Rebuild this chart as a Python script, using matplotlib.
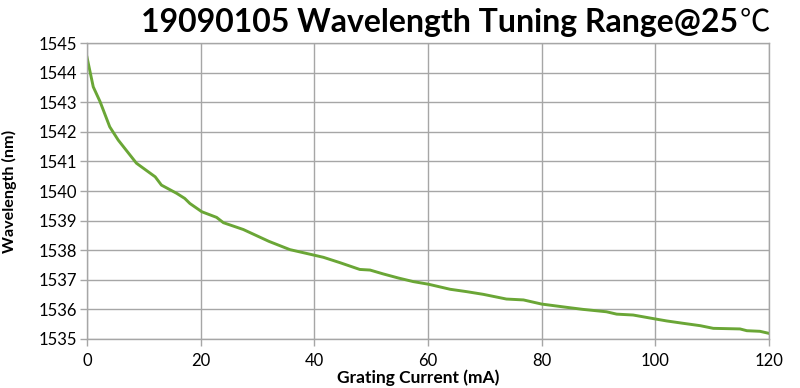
import matplotlib
matplotlib.use("Agg")
import matplotlib.pyplot as plt

# 光栅电流 (mA) 与波长 (nm)
current_ma = [0, 1.1, 2.3, 4.0, 5.5, 8.7, 12.0, 13.1, 15.8, 17.2, 18.1, 20.2, 22.8, 24.0,
              27.5, 32.0, 35.7, 39.8, 41.6, 44.5, 48.0, 49.8, 52.1, 54.8, 57.4, 60.1,
              63.9, 66.8, 69.7, 73.8, 76.8, 80.0, 84.4, 87.3, 91.4, 93.2, 96.1, 99.9,
              102.0, 104.9, 107.9, 110.2, 114.9, 116.1, 118.4, 120.0]
wavelength_nm = [1544.52, 1543.52, 1543.02, 1542.17, 1541.72, 1540.94, 1540.48, 1540.20,
                 1539.92, 1539.75, 1539.58, 1539.30, 1539.11, 1538.93, 1538.70, 1538.30,
                 1538.02, 1537.84, 1537.76, 1537.58, 1537.35, 1537.33, 1537.20, 1537.06,
                 1536.94, 1536.85, 1536.68, 1536.60, 1536.51, 1536.35, 1536.32, 1536.18,
                 1536.07, 1536.00, 1535.92, 1535.84, 1535.81, 1535.68, 1535.61, 1535.53,
                 1535.45, 1535.36, 1535.34, 1535.28, 1535.26, 1535.19]

x_ticks = [0, 20, 40, 60, 80, 100, 120]
y_ticks = list(range(1535, 1546))

fonts = ['Lato', 'Noto Sans CJK SC', 'DejaVu Sans']
plt.rcParams['font.family'] = fonts

fig = plt.figure(figsize=(8, 3.88), dpi=100)
ax = fig.add_axes([0.10875, 0.1263, 0.8525, 0.7627])

ax.plot(current_ma, wavelength_nm, color='#6aa636', linewidth=2.1)

ax.set_xlim(0, 120)
ax.set_ylim(1535, 1545)
ax.set_xticks(x_ticks)
ax.set_yticks(y_ticks)
ax.grid(True, color='#a6a6a6', linewidth=1)
ax.set_axisbelow(True)
for s in ax.spines.values():
    s.set_color('#a6a6a6')
    s.set_linewidth(1)
ax.tick_params(axis='both', colors='#a6a6a6', labelcolor='black', labelsize=12,
               length=5, width=1)
ax.tick_params(axis='x', pad=5)
ax.tick_params(axis='y', pad=2)

ax.set_xlabel('Grating Current (mA)', fontsize=12.5, fontweight='bold')
ax.xaxis.set_label_coords(0.485, -0.104)
ax.set_ylabel('Wavelength (nm)', fontsize=11.6, fontweight='bold')
ax.yaxis.set_label_coords(-0.102, 0.5)

# 标题：数字和文字加粗，℃ 用常规字重
deg = fig.text(0.9625, 0.943, '℃', ha='right', va='center', fontsize=22,
               family=['Noto Sans CJK SC', 'DejaVu Sans'], fontweight='light')
fig.canvas.draw()
bb = deg.get_window_extent(fig.canvas.get_renderer())
fig.text(bb.x0 / fig.bbox.width - 0.002, 0.943, '19090105 Wavelength Tuning Range@25',
         ha='right', va='center', fontsize=23, fontweight='bold')

fig.savefig('out.png', dpi=100)
